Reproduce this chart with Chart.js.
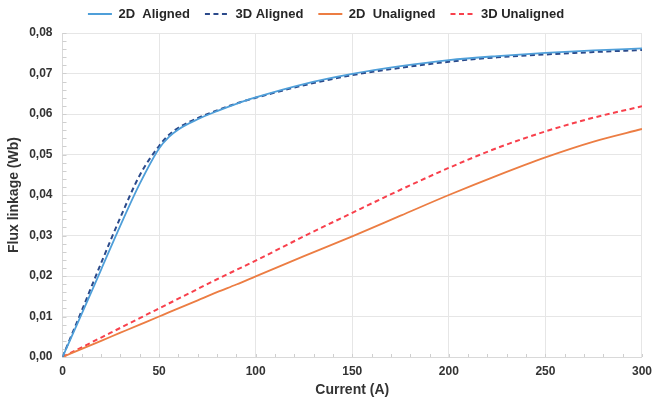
<!DOCTYPE html>
<html lang="en">
<head>
<meta charset="UTF-8">
<title>Flux linkage vs current</title>
<script src="https://cdn.jsdelivr.net/npm/chart.js"></script>
<style>
  html, body { margin: 0; padding: 0; background: #fff; }
</style>
</head>
<body>
<canvas id="myChart" width="652" height="403"></canvas>
<script>
// current (A) shared by all four curves
const current = [0, 10, 20, 30, 40, 50, 55, 60, 70, 80, 90, 100, 125, 150, 175, 200, 225, 250, 275, 300]

// flux linkage (Wb)
const aligned2D   = [0, 0.0107, 0.0216, 0.0325, 0.0428, 0.0515, 0.0543, 0.0562, 0.0587, 0.0607, 0.0625, 0.0641, 0.0674, 0.0699, 0.0718, 0.0733, 0.0743, 0.0751, 0.0757, 0.0762]
const aligned3D   = [0, 0.0115, 0.0232, 0.0345, 0.0449, 0.0521, 0.0548, 0.0566, 0.0590, 0.0609, 0.0626, 0.0640, 0.0671, 0.0696, 0.0714, 0.0729, 0.0740, 0.0747, 0.0753, 0.0758]
const unaligned2D = [0, 0.0020, 0.0040, 0.0060, 0.0080, 0.0100, 0.0110, 0.0120, 0.0140, 0.0160, 0.0179, 0.0199, 0.0249, 0.0298, 0.0349, 0.0400, 0.0448, 0.0493, 0.0532, 0.0563]
const unaligned3D = [0, 0.0024, 0.0048, 0.0072, 0.0096, 0.0120, 0.0132, 0.0144, 0.0168, 0.0192, 0.0215, 0.0238, 0.0298, 0.0356, 0.0413, 0.0467, 0.0516, 0.0557, 0.0591, 0.0619]

const seriesNames = ['2D  Aligned', '3D Aligned', '2D  Unaligned', '3D Unaligned']

const xTicks = { min: 0, max: 300, step: 50 }
const yTicks = { min: 0, max: 0.08, step: 0.01 }

const font = '"Liberation Sans", Arial, sans-serif'
const pts = ys => ys.map((y, i) => ({ x: current[i], y: y }))

// small inward tick marks between the gridlines
const minorTicks = {
    id: 'minorTicks',
    beforeDatasetsDraw(chart) {
        const { ctx, chartArea, scales } = chart
        ctx.save()
        ctx.strokeStyle = '#cfcfcf'
        ctx.lineWidth = 1
        ctx.beginPath()
        for (let v = xTicks.min; v <= xTicks.max; v += 10) {
            const px = Math.round(scales.x.getPixelForValue(v)) + 0.5
            ctx.moveTo(px, chartArea.bottom)
            ctx.lineTo(px, chartArea.bottom - 3)
        }
        for (let k = 0; k <= 40; k++) {
            const py = Math.round(scales.y.getPixelForValue(k * 0.002)) + 0.5
            ctx.moveTo(chartArea.left, py)
            ctx.lineTo(chartArea.left + 4, py)
        }
        ctx.stroke()
        ctx.restore()
    }
}

const data = {
    datasets: [
        { label: seriesNames[0], data: pts(aligned2D), borderColor: '#4f9fd9', borderWidth: 1.8 },
        { label: seriesNames[1], data: pts(aligned3D), borderColor: '#2b4a8b', borderWidth: 2, borderDash: [5, 3.5] },
        { label: seriesNames[2], data: pts(unaligned2D), borderColor: '#ec7d43', borderWidth: 1.8 },
        { label: seriesNames[3], data: pts(unaligned3D), borderColor: '#f8404c', borderWidth: 2, borderDash: [5, 3.5] }
    ]
}
data.datasets.forEach(d => {
    d.backgroundColor = d.borderColor
    d.pointRadius = 0
    d.pointHoverRadius = 0
    d.fill = false
    d.cubicInterpolationMode = 'monotone'
})

const config = {
    type: 'line',
    data: data,
    plugins: [minorTicks],
    options: {
        responsive: false,
        animation: false,
        layout: { padding: { top: -7.5, left: 0, right: 0, bottom: 0 } },
        plugins: {
            tooltip: { enabled: false },
            legend: {
                position: 'top',
                labels: {
                    usePointStyle: true,
                    pointStyle: 'line',
                    pointStyleWidth: 24,
                    padding: 15,
                    color: '#262626',
                    font: { family: font, size: 13, weight: 'bold' },
                    generateLabels: chart => {
                        const items = Chart.defaults.plugins.legend.labels.generateLabels(chart)
                        items.forEach(it => {
                            const ds = chart.data.datasets[it.datasetIndex]
                            it.lineDash = ds.borderDash || []
                            it.lineWidth = ds.borderWidth
                        })
                        return items
                    }
                }
            },
            // thin spacer between legend and plot
            title: {
                display: true,
                text: '',
                weight: 500,
                padding: 0,
                font: { size: 2, lineHeight: 1.25 }
            }
        },
        scales: {
            x: {
                type: 'linear',
                min: xTicks.min,
                max: xTicks.max,
                ticks: {
                    stepSize: xTicks.step,
                    padding: 0,
                    color: '#333',
                    font: { family: font, size: 12, weight: 'bold', lineHeight: 2.5 }
                },
                grid: { color: '#e6e6e6', drawTicks: false },
                border: { color: '#d9d9d9' },
                title: {
                    display: true,
                    text: 'Current (A)',
                    color: '#333',
                    padding: { top: -5.3, bottom: 4.5 },
                    font: { family: font, size: 14, weight: 'bold' }
                }
            },
            y: {
                min: yTicks.min,
                max: yTicks.max,
                ticks: {
                    stepSize: yTicks.step,
                    padding: 10,
                    color: '#333',
                    font: { family: font, size: 12, weight: 'bold' },
                    callback: v => v.toFixed(2).replace('.', ',')
                },
                grid: { color: '#e6e6e6', drawTicks: false },
                border: { color: '#d9d9d9' },
                title: {
                    display: true,
                    text: 'Flux linkage (Wb)',
                    color: '#333',
                    padding: { top: 6, bottom: -3.65 },
                    font: { family: font, size: 14, weight: 'bold' }
                }
            }
        }
    }
}

window.fluxChart = new Chart(document.getElementById('myChart'), config)
</script>
</body>
</html>
